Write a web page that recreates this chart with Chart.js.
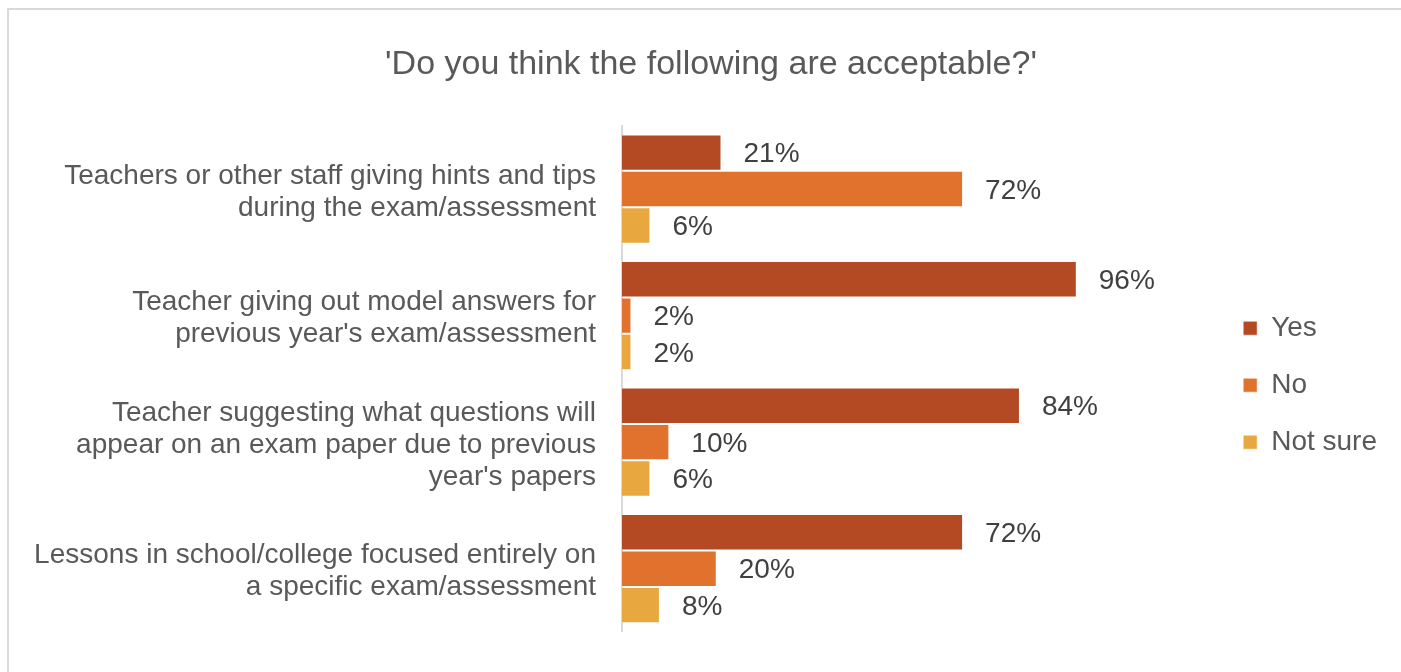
<!DOCTYPE html>
<html>
<head>
<meta charset="utf-8">
<script src="https://cdn.jsdelivr.net/npm/chart.js@4.4.1/dist/chart.umd.min.js"></script>
<style>
    html, body { margin: 0; padding: 0; background: #fff; overflow: hidden; }
    .chart-box {
        position: absolute;
        left: 7px;
        top: 8px;
        width: 1404px;
        height: 680px;
        border: 2px solid #d9d9d9;
    }
</style>
</head>
<body>
<div class="chart-box">
    <canvas id="acceptableChart" width="1404" height="680"></canvas>
</div>
<script>
const categories = [
    ['Teachers or other staff giving hints and tips', 'during the exam/assessment'],
    ['Teacher giving out model answers for', "previous year's exam/assessment"],
    ['Teacher suggesting what questions will', 'appear on an exam paper due to previous', "year's papers"],
    ['Lessons in school/college focused entirely on', 'a specific exam/assessment']
];
const seriesNames = ['Yes', 'No', 'Not sure'];
const yesValues = [21, 96, 84, 72];
const noValues = [72, 2, 10, 20];
const notSureValues = [6, 2, 6, 8];
const seriesColors = ['#b34a24', '#e0722d', '#e8a73f'];

const fontFamily = '"Liberation Sans", Arial, sans-serif';

// draws the "21%" style labels just past the end of each bar
const valueLabels = {
    id: 'valueLabels',
    afterDatasetsDraw(chart) {
        const ctx = chart.ctx;
        ctx.save();
        ctx.font = '28px ' + fontFamily;
        ctx.fillStyle = '#404040';
        ctx.textAlign = 'left';
        ctx.textBaseline = 'middle';
        chart.data.datasets.forEach((ds, i) => {
            const meta = chart.getDatasetMeta(i);
            meta.data.forEach((bar, j) => {
                ctx.fillText(ds.data[j] + '%', bar.x + 22, bar.y + 2);
            });
        });
        ctx.restore();
    }
};

const ctx = document.getElementById('acceptableChart').getContext('2d');
new Chart(ctx, {
    type: 'bar',
    data: {
        labels: categories,
        datasets: [yesValues, noValues, notSureValues].map((values, i) => ({
            label: seriesNames[i],
            data: values,
            backgroundColor: seriesColors[i],
            borderColor: 'rgba(255, 255, 255, 0.6)',
            borderWidth: 1,
            barPercentage: 1,
            categoryPercentage: 0.863
        }))
    },
    options: {
        indexAxis: 'y',
        responsive: false,
        animation: false,
        layout: {
            padding: { top: 0, right: 26, bottom: 54, left: 26 }
        },
        plugins: {
            title: {
                display: true,
                text: "'Do you think the following are acceptable?'",
                color: '#595959',
                font: { family: fontFamily, size: 34, weight: 'normal' },
                padding: { top: 34, bottom: 41 }
            },
            legend: {
                position: 'right',
                // empty title only pushes the legend items down
                title: {
                    display: true,
                    text: '',
                    font: { size: 12 },
                    padding: { top: 55, bottom: 55 }
                },
                labels: {
                    color: '#595959',
                    font: { family: fontFamily, size: 28 },
                    boxWidth: 14,
                    boxHeight: 14,
                    padding: 29
                }
            },
            tooltip: { enabled: false }
        },
        scales: {
            x: {
                display: false,
                min: 0,
                max: 125
            },
            y: {
                grid: { display: false, drawTicks: false },
                border: { display: true, color: '#d9d9d9', width: 2 },
                ticks: {
                    color: '#595959',
                    font: { family: fontFamily, size: 28, lineHeight: 1.143 },
                    padding: 26,
                    labelOffset: 3
                },
                afterFit(scale) {
                    scale.width = 587;
                }
            }
        }
    },
    plugins: [valueLabels]
});
</script>
</body>
</html>
